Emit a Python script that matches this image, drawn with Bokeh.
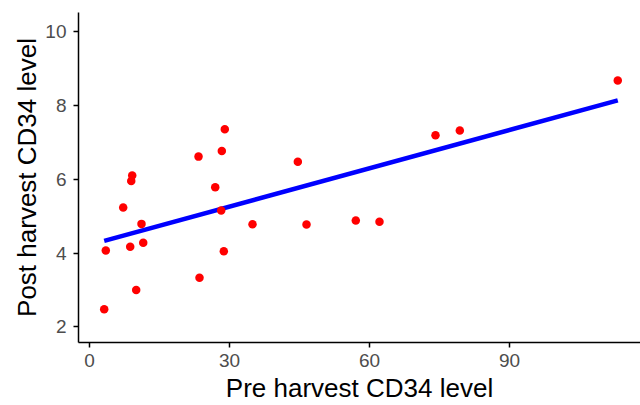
import numpy as np
from bokeh.plotting import figure
from bokeh.models import Range1d, FixedTicker
from bokeh.embed import file_html
from bokeh.resources import INLINE

# Data
pre_cd34 = [3.15, 3.49, 7.22, 8.72, 8.94, 9.15, 10.0, 11.14, 11.51, 23.36, 23.57,
            26.94, 28.22, 28.35, 28.78, 28.99, 34.93, 44.64, 46.5, 57.06, 62.14,
            74.14, 79.35, 113.2]
post_cd34 = [2.48, 4.07, 5.23, 4.17, 5.95, 6.10, 3.00, 4.79, 4.28, 6.61, 3.33,
             5.78, 5.15, 6.76, 4.05, 7.35, 4.78, 6.47, 4.77, 4.88, 4.85,
             7.19, 7.32, 8.67]
x_ticks = [0, 30, 60, 90]
y_ticks = [2, 4, 6, 8, 10]

# Linear fit (geom_smooth method = lm)
slope, intercept = np.polyfit(pre_cd34, post_cd34, 1)
fit_x = [min(pre_cd34), max(pre_cd34)]
fit_y = [intercept + slope * v for v in fit_x]

p = figure(width=640, height=405, output_backend="svg", toolbar_location=None,
           x_range=Range1d(-2.36, 118.07), y_range=Range1d(1.58, 10.51),
           min_border_left=78, min_border_right=0, min_border_top=12,
           min_border_bottom=62)
p.outline_line_color = None
p.xgrid.visible = False
p.ygrid.visible = False
p.background_fill_color = "white"
p.border_fill_color = "white"

p.line(fit_x, fit_y, line_color="blue", line_width=4.5)
p.scatter(pre_cd34, post_cd34, size=8.5, fill_color="red", line_color="red",
          line_width=0)

for ax in (p.xaxis[0], p.yaxis[0]):
    ax.axis_line_color = "black"
    ax.axis_line_width = 1.5
    ax.major_tick_line_color = "black"
    ax.major_tick_line_width = 1.5
    ax.major_tick_out = 5
    ax.major_tick_in = 0
    ax.minor_tick_line_color = None
    ax.major_label_text_font = "Liberation Sans"
    ax.major_label_text_font_size = "19px"
    ax.major_label_text_color = "#4D4D4D"
    ax.axis_label_text_font = "Liberation Sans"
    ax.axis_label_text_font_size = "26px"
    ax.axis_label_text_font_style = "normal"
    ax.axis_label_text_color = "black"

p.xaxis.ticker = FixedTicker(ticks=x_ticks)
p.yaxis.ticker = FixedTicker(ticks=y_ticks)
p.xaxis.axis_label = "Pre harvest CD34 level"
p.yaxis.axis_label = "Post harvest CD34 level"
p.xaxis.major_label_standoff = 6
p.yaxis.major_label_standoff = 7
p.xaxis.axis_label_standoff = 3
p.yaxis.axis_label_standoff = 0

open("out.html", "w").write(file_html(p, INLINE))
